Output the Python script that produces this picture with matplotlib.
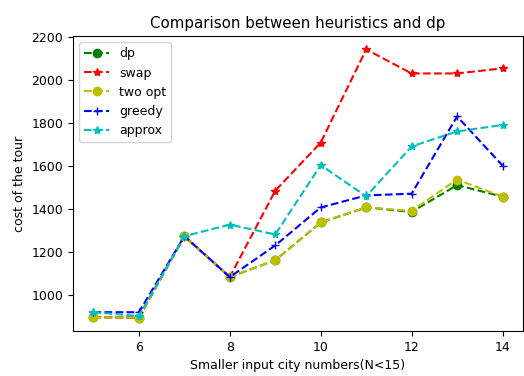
"""Comparison of tour costs: dp against the heuristics."""
import matplotlib
matplotlib.use('Agg')
import matplotlib.pyplot as plt

plt.rcParams['font.size'] = 9

city_numbers = [5, 6, 7, 8, 9, 10, 11, 12, 13, 14]

dp_cost = [895, 893, 1272, 1082, 1160, 1336, 1406, 1385, 1510, 1456]
swap_cost = [895, 893, 1272, 1082, 1484, 1708, 2142, 2030, 2030, 2054]
two_opt_cost = [895, 893, 1272, 1082, 1160, 1336, 1406, 1390, 1536, 1456]
greedy_cost = [918, 918, 1272, 1082, 1229, 1406, 1462, 1470, 1830, 1601]
approx_cost = [918, 900, 1272, 1326, 1280, 1603, 1458, 1690, 1760, 1790]

fig = plt.figure(figsize=(5.24, 3.76), dpi=100)
ax = fig.add_axes([73 / 524, 1 - 331 / 376, 450 / 524, 295 / 376])

ax.plot(city_numbers, dp_cost, 'go--', label='dp')
ax.plot(city_numbers, swap_cost, 'r*--', label='swap')
ax.plot(city_numbers, two_opt_cost, 'yo--', label='two opt')
ax.plot(city_numbers, greedy_cost, 'b+--', label='greedy')
ax.plot(city_numbers, approx_cost, 'c*--', label='approx')

ax.set_title('Comparison between heuristics and dp')
ax.set_xlabel('Smaller input city numbers(N<15)')
ax.set_ylabel('cost of the tour')
ax.legend(loc='upper left')

fig.savefig('out.png', dpi=100)
